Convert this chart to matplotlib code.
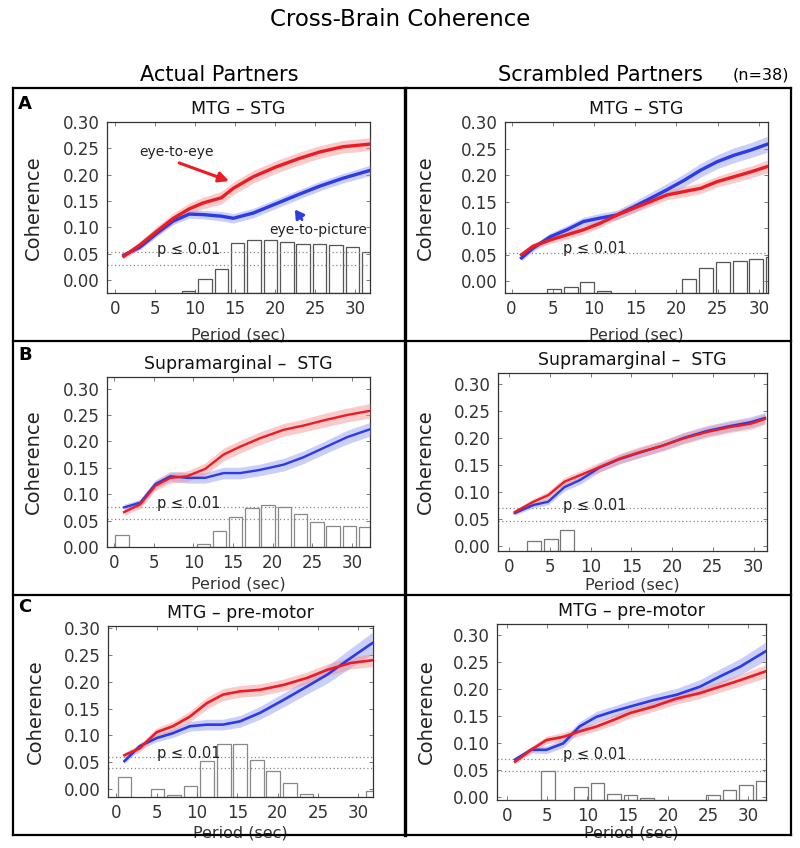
import matplotlib
matplotlib.use("Agg")
import matplotlib.pyplot as plt
from matplotlib.lines import Line2D

W, H = 800, 848

# ---- data ----
bin_centers = [1.0, 3.05, 5.1, 7.15, 9.2, 11.25, 13.3, 15.35, 17.4, 19.45,
               21.5, 23.55, 25.6, 27.65, 29.7, 31.75]

# A, actual partners: MTG - STG
a_act_x = [1.1, 3.1, 5.2, 7.3, 9.3, 11.0, 13.3, 14.8, 17.3, 20.2, 23.1, 25.6, 28.5, 31.9]
a_act_red = [0.045, 0.066, 0.092, 0.117, 0.135, 0.146, 0.156, 0.174, 0.196, 0.215, 0.231, 0.243, 0.253, 0.258]
a_act_red_err = [0.005, 0.007, 0.009, 0.010, 0.011, 0.011, 0.012, 0.012, 0.012, 0.012, 0.012, 0.012, 0.012, 0.012]
a_act_blue = [0.047, 0.062, 0.088, 0.112, 0.125, 0.124, 0.121, 0.117, 0.127, 0.145, 0.163, 0.178, 0.193, 0.208]
a_act_blue_err = [0.004, 0.005, 0.006, 0.007, 0.008, 0.008, 0.009, 0.009, 0.009, 0.009, 0.009, 0.009, 0.009, 0.010]
a_act_bars = [0, 0, 0, 0, 0.003, 0.0265, 0.0455, 0.095, 0.101, 0.101, 0.096, 0.093, 0.093, 0.092, 0.088, 0.077]
a_act_thr = [0.052, 0.028]

# A, scrambled partners
a_scr_x = [1.2, 2.6, 4.7, 6.7, 8.7, 10.7, 12.8, 14.8, 16.8, 18.8, 20.9, 22.9, 24.9, 27.0, 29.0, 31.0]
a_scr_red = [0.050, 0.066, 0.078, 0.0875, 0.097, 0.109, 0.125, 0.1375, 0.150, 0.1625, 0.169, 0.175, 0.1875, 0.197, 0.206, 0.216]
a_scr_red_err = [0.005, 0.006, 0.007, 0.008, 0.008, 0.008, 0.008, 0.009, 0.009, 0.009, 0.010, 0.010, 0.010, 0.011, 0.011, 0.012]
a_scr_blue = [0.044, 0.0625, 0.084, 0.097, 0.1125, 0.119, 0.125, 0.140, 0.156, 0.172, 0.190, 0.209, 0.225, 0.2375, 0.247, 0.258]
a_scr_blue_err = [0.005, 0.006, 0.007, 0.008, 0.008, 0.009, 0.009, 0.010, 0.011, 0.012, 0.012, 0.013, 0.013, 0.014, 0.014, 0.015]
a_scr_bars = [0, 0, 0.0075, 0.011, 0.021, 0.004, 0, 0, 0, 0, 0.026, 0.048, 0.0575, 0.061, 0.064, 0.0675]
a_scr_thr = [0.054]

# B, actual partners: Supramarginal - STG
b_act_x = [1.26, 3.3, 5.2, 7.1, 9.2, 11.5, 13.8, 15.9, 18.4, 21.4, 23.9, 26.5, 29.4, 32.3]
b_act_red = [0.066, 0.081, 0.116, 0.131, 0.134, 0.148, 0.175, 0.190, 0.206, 0.222, 0.230, 0.240, 0.250, 0.258]
b_act_red_err = [0.006, 0.008, 0.009, 0.010, 0.010, 0.011, 0.012, 0.012, 0.012, 0.012, 0.012, 0.013, 0.013, 0.014]
b_act_blue = [0.075, 0.084, 0.119, 0.134, 0.131, 0.131, 0.140, 0.140, 0.146, 0.156, 0.170, 0.188, 0.208, 0.223]
b_act_blue_err = [0.006, 0.007, 0.008, 0.009, 0.010, 0.010, 0.011, 0.011, 0.011, 0.012, 0.012, 0.012, 0.013, 0.013]
b_act_bars = [0.023, 0, 0, 0, 0, 0.006, 0.031, 0.0575, 0.073, 0.079, 0.075, 0.062, 0.0475, 0.039, 0.039, 0.0375]
b_act_thr = [0.076, 0.053]

# B, scrambled partners
b_scr_x = [0.7, 3.0, 4.8, 6.8, 8.7, 11.1, 13.6, 16.1, 18.9, 21.4, 24.3, 27.1, 29.6, 31.4]
b_scr_red = [0.063, 0.082, 0.094, 0.119, 0.131, 0.146, 0.162, 0.174, 0.186, 0.199, 0.211, 0.220, 0.226, 0.235]
b_scr_red_err = [0.004, 0.006, 0.007, 0.008, 0.008, 0.009, 0.009, 0.010, 0.010, 0.010, 0.010, 0.010, 0.010, 0.010]
b_scr_blue = [0.061, 0.076, 0.082, 0.109, 0.122, 0.145, 0.161, 0.173, 0.186, 0.200, 0.213, 0.222, 0.229, 0.237]
b_scr_blue_err = [0.004, 0.005, 0.006, 0.007, 0.008, 0.008, 0.009, 0.009, 0.009, 0.010, 0.010, 0.010, 0.010, 0.010]
b_scr_bars = [0, 0.018, 0.023, 0.039, 0, 0, 0, 0, 0, 0, 0, 0, 0, 0, 0, 0]
b_scr_thr = [0.070, 0.047]

# C, actual partners: MTG - pre-motor
c_act_x = [1.0, 2.9, 5.0, 7.0, 9.1, 11.2, 13.2, 15.3, 17.8, 20.7, 23.6, 26.1, 29.0, 31.7]
c_act_red = [0.063, 0.076, 0.106, 0.117, 0.135, 0.160, 0.176, 0.182, 0.185, 0.194, 0.207, 0.222, 0.235, 0.240]
c_act_red_err = [0.005, 0.007, 0.008, 0.009, 0.010, 0.011, 0.011, 0.011, 0.011, 0.011, 0.011, 0.011, 0.011, 0.012]
c_act_blue = [0.052, 0.080, 0.095, 0.104, 0.117, 0.120, 0.120, 0.126, 0.142, 0.166, 0.191, 0.213, 0.244, 0.272]
c_act_blue_err = [0.004, 0.006, 0.007, 0.008, 0.009, 0.010, 0.010, 0.011, 0.012, 0.013, 0.014, 0.016, 0.018, 0.020]
c_act_bars = [0.037, 0, 0.0155, 0.004, 0.021, 0.068, 0.099, 0.099, 0.0695, 0.048, 0.027, 0.006, 0, 0, 0, 0.012]
c_act_thr = [0.060, 0.039]

# C, scrambled partners
c_scr_x = [1.0, 3.0, 4.9, 7.0, 9.0, 11.1, 13.2, 15.3, 18.2, 21.1, 24.0, 26.5, 29.0, 32.1]
c_scr_red = [0.065, 0.087, 0.105, 0.111, 0.121, 0.130, 0.142, 0.155, 0.167, 0.182, 0.192, 0.204, 0.216, 0.232]
c_scr_red_err = [0.004, 0.006, 0.007, 0.008, 0.008, 0.008, 0.009, 0.009, 0.009, 0.010, 0.010, 0.010, 0.011, 0.012]
c_scr_blue = [0.069, 0.087, 0.087, 0.099, 0.130, 0.148, 0.158, 0.167, 0.179, 0.189, 0.204, 0.223, 0.241, 0.269]
c_scr_blue_err = [0.004, 0.006, 0.007, 0.008, 0.009, 0.010, 0.010, 0.011, 0.011, 0.012, 0.013, 0.014, 0.015, 0.017]
c_scr_bars = [0, 0, 0.054, 0, 0.025, 0.032, 0.012, 0.0087, 0.0043, 0, 0, 0, 0.0087, 0.018, 0.027, 0.035]
c_scr_thr = [0.070, 0.048]

titles = ["MTG \u2013 STG", "MTG \u2013 STG",
          "Supramarginal \u2013  STG", "Supramarginal \u2013  STG",
          "MTG \u2013 pre-motor", "MTG \u2013 pre-motor"]

RED = "#ec1c24"
BLUE = "#2b3be6"
RED_BAND = "#f28b8b"
BLUE_BAND = "#8c96f0"

# layout in pixels: left, right, top, bottom, xlim, ylim, ylabel x, xlabel y, p-label pos, line width
panels = [
    dict(px=(107, 370, 122, 293), xlim=(-1.0, 31.9), ylim=(-0.025, 0.30), ylx=-0.245, xly=-0.20,
         p=(5.2, 0.057), lw=2.4, bar_ec="#555555",
         x=a_act_x, red=a_act_red, rerr=a_act_red_err, blue=a_act_blue, berr=a_act_blue_err,
         bars=a_act_bars, thr=a_act_thr),
    dict(px=(505, 768, 122, 293), xlim=(-0.8, 31.1), ylim=(-0.022, 0.30), ylx=-0.265, xly=-0.20,
         p=(6.2, 0.0625), lw=2.4, bar_ec="#555555",
         x=a_scr_x, red=a_scr_red, rerr=a_scr_red_err, blue=a_scr_blue, berr=a_scr_blue_err,
         bars=a_scr_bars, thr=a_scr_thr),
    dict(px=(107, 370, 377, 547), xlim=(-0.9, 32.3), ylim=(0.0, 0.322), ylx=-0.245, xly=-0.175,
         p=(5.4, 0.083), lw=1.7, bar_ec="#888888",
         x=b_act_x, red=b_act_red, rerr=b_act_red_err, blue=b_act_blue, berr=b_act_blue_err,
         bars=b_act_bars, thr=b_act_thr),
    dict(px=(498, 767, 373, 551), xlim=(-1.35, 31.65), ylim=(-0.009, 0.32), ylx=-0.235, xly=-0.15,
         p=(6.6, 0.0755), lw=1.7, bar_ec="#777777",
         x=b_scr_x, red=b_scr_red, rerr=b_scr_red_err, blue=b_scr_blue, berr=b_scr_blue_err,
         bars=b_scr_bars, thr=b_scr_thr),
    dict(px=(108, 373, 626, 797), xlim=(-1.04, 31.8), ylim=(-0.015, 0.304), ylx=-0.24, xly=-0.165,
         p=(5.0, 0.066), lw=1.9, bar_ec="#888888",
         x=c_act_x, red=c_act_red, rerr=c_act_red_err, blue=c_act_blue, berr=c_act_blue_err,
         bars=c_act_bars, thr=c_act_thr),
    dict(px=(497, 766, 624, 800), xlim=(-1.25, 32.2), ylim=(-0.006, 0.32), ylx=-0.228, xly=-0.145,
         p=(7.0, 0.079), lw=1.9, bar_ec="#777777",
         x=c_scr_x, red=c_scr_red, rerr=c_scr_red_err, blue=c_scr_blue, berr=c_scr_blue_err,
         bars=c_scr_bars, thr=c_scr_thr),
]

fig = plt.figure(figsize=(W / 100, H / 100), dpi=100)

axes = []
for i, p in enumerate(panels):
    l, r, t, b = p["px"]
    ax = fig.add_axes([l / W, 1 - b / H, (r - l) / W, (b - t) / H])
    axes.append(ax)
    ylo = p["ylim"][0]

    # significance histogram
    bx = [c for c, h in zip(bin_centers, p["bars"]) if h > 0]
    bh = [h for h in p["bars"] if h > 0]
    ax.bar(bx, bh, width=1.7, bottom=ylo, facecolor="white",
           edgecolor=p["bar_ec"], linewidth=0.9, zorder=1)

    for yv in p["thr"]:
        ax.axhline(yv, color="#888888", linestyle=(0, (1, 2)), linewidth=0.9, zorder=2)

    x = p["x"]
    ax.fill_between(x, [v - e for v, e in zip(p["blue"], p["berr"])],
                    [v + e for v, e in zip(p["blue"], p["berr"])],
                    color=BLUE_BAND, alpha=0.45, linewidth=0, zorder=3)
    ax.fill_between(x, [v - e for v, e in zip(p["red"], p["rerr"])],
                    [v + e for v, e in zip(p["red"], p["rerr"])],
                    color=RED_BAND, alpha=0.45, linewidth=0, zorder=3)
    ax.plot(x, p["blue"], color=BLUE, linewidth=p["lw"], zorder=4)
    ax.plot(x, p["red"], color=RED, linewidth=p["lw"], zorder=5)

    ax.text(p["p"][0], p["p"][1], "p \u2264 0.01", fontsize=10.5, color="#222222",
            ha="left", va="center", zorder=6)

    ax.set_xlim(*p["xlim"])
    ax.set_ylim(*p["ylim"])
    ax.set_xticks([0, 5, 10, 15, 20, 25, 30])
    ax.set_yticks([0.0, 0.05, 0.10, 0.15, 0.20, 0.25, 0.30])
    ax.set_yticklabels(["%.2f" % v for v in [0.0, 0.05, 0.10, 0.15, 0.20, 0.25, 0.30]])
    ax.tick_params(direction="in", length=3, width=0.6, top=True, right=True,
                   labelsize=12, labelcolor="#333333", color="#666666", pad=5)
    for s in ax.spines.values():
        s.set_linewidth(0.9)
        s.set_color("#333333")
    ax.set_ylabel("Coherence", fontsize=14, color="#222222")
    ax.yaxis.set_label_coords(p["ylx"], 0.5)
    ax.set_xlabel("Period (sec)", fontsize=11.5, color="#333333")
    ax.xaxis.set_label_coords(0.5, p["xly"])
    ax.set_title(titles[i], fontsize=12.5, color="#111111", pad=6)

# annotations in panel A
ax = axes[0]
ax.text(7.75, 0.243, "eye-to-eye", fontsize=10, ha="center", va="center", color="#222222")
ax.annotate("", xy=(14.6, 0.186), xytext=(7.7, 0.224),
            arrowprops=dict(arrowstyle="-|>,head_length=0.6,head_width=0.3", color=RED, lw=2.2))
ax.text(25.4, 0.095, "eye-to-picture", fontsize=10, ha="center", va="center", color="#222222")
ax.annotate("", xy=(22.3, 0.138), xytext=(23.6, 0.110),
            arrowprops=dict(arrowstyle="-|>,head_length=0.5,head_width=0.3", color=BLUE, lw=2.0))

# figure texts
fig.text(400 / W, 1 - 19 / H, "Cross-Brain Coherence", fontsize=16.5, ha="center", va="center")
fig.text(219 / W, 1 - 75 / H, "Actual Partners", fontsize=15, ha="center", va="center")
fig.text(600 / W, 1 - 75 / H, "Scrambled Partners", fontsize=15, ha="center", va="center")
fig.text(761 / W, 1 - 75 / H, "(n=38)", fontsize=11.5, ha="center", va="center")
for letter, ypx in [("A", 104), ("B", 355), ("C", 607)]:
    fig.text(25 / W, 1 - ypx / H, letter, fontsize=13, fontweight="bold", ha="center", va="center")

# panel frames
def hline(ypx, x0, x1, lw=1.6):
    fig.add_artist(Line2D([x0 / W, x1 / W], [1 - ypx / H, 1 - ypx / H],
                          color="black", linewidth=lw, transform=fig.transFigure))

def vline(xpx, y0, y1, lw=1.6):
    fig.add_artist(Line2D([xpx / W, xpx / W], [1 - y0 / H, 1 - y1 / H],
                          color="black", linewidth=lw, transform=fig.transFigure))

for ypx in [88, 341, 595, 834.5]:
    hline(ypx, 12.5, 791)
vline(12.5, 88, 834.5)
vline(791, 88, 834.5)
vline(405, 88, 834.5, lw=2.4)

fig.savefig("out.png", dpi=100)
